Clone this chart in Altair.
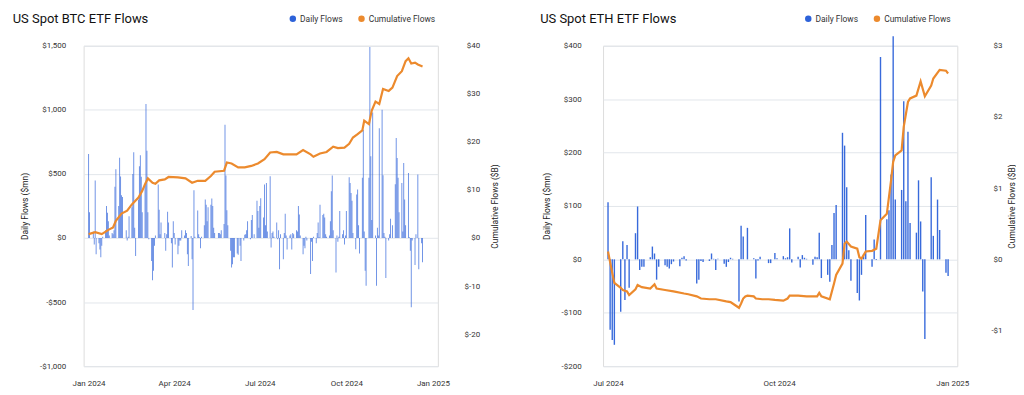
import altair as alt
import pandas as pd

BLUE = "#2d62d9"
ORANGE = "#ec8a2d"
FONT = "Roboto"

# ---------------- BTC ----------------
btc_holidays = ["2024-01-15", "2024-02-19", "2024-03-29", "2024-05-27", "2024-06-19",
                "2024-07-04", "2024-09-02", "2024-11-28", "2024-12-25"]
btc_daily = [
    655, 200, 50, -50, 448, -127, -40, -90, -150, -60,
    10, 60, 250, 197, 130, 20, 40, 30, 60, 400,
    536, 250, 627, 480, 334, 320, 60, -20, 10, 170,
    240, 500, 670, 80, -140, 300, 560, 645, 477, 200,
    420, 1046, 680, 200, -10, -180, -330, -256, -60, 20,
    417, 220, 30, 120, 40, -100, 30, 205, 120, -40,
    -230, 130, 40, -50, -127, -60, -20, -20, 60, 20,
    60, 40, -127, -218, 15, -166, -562, 373, 10, 215,
    30, 5, -80, 10, 100, 300, 260, 130, 240, 260,
    308, 250, 80, 40, 40, 40, 30, 60, 110, 883,
    488, 217, 100, -100, -230, -205, -150, -150, -120, -130,
    -60, -180, -20, 25, 30, 60, 130, -10, 140, 180,
    30, 290, 210, 80, 250, 310, 160, 417, 100, 430,
    50, 482, -75, 40, 50, 10, 120, -10, 60, -243,
    30, -166, 40, 190, 20, -90, 20, 30, -90, 40,
    30, 60, 50, 250, 184, 20, -127, -60, -80, 10,
    -20, -280, -30, -180, 10, -40, 40, 120, 5, 260,
    180, 190, 160, 30, 10, 20, 130, 365, 487, 60,
    -270, 20, -30, 10, 210, 30, 60, -50, 20, 210,
    475, 430, 352, 290, 40, -88, 340, 378, 100, -120,
    470, 845, 50, -256, -373, 470, 1490, 637, 140, 980,
    20, -373, 80, 20, 857, 1000, 490, 40, 10, -313,
    -20, 30, 150, 100, 420, 780, 624, 470, 200, 430,
    50, 585, 300, 100, 508, 5, -100, -541, -20, -210,
    30, 495, -243, -40, -190,
]
btc_cum_dates = [
    "2024-01-11", "2024-01-18", "2024-01-25", "2024-02-01", "2024-02-06", "2024-02-09",
    "2024-02-15", "2024-02-21", "2024-02-26", "2024-03-04", "2024-03-08", "2024-03-11",
    "2024-03-14", "2024-03-19", "2024-03-22", "2024-03-26", "2024-04-01", "2024-04-05",
    "2024-04-15", "2024-04-23", "2024-04-30", "2024-05-06", "2024-05-14", "2024-05-20",
    "2024-05-24", "2024-06-03", "2024-06-06", "2024-06-11", "2024-06-18", "2024-06-25",
    "2024-07-02", "2024-07-09", "2024-07-16", "2024-07-22", "2024-07-29", "2024-08-05",
    "2024-08-12", "2024-08-19", "2024-08-26", "2024-09-03", "2024-09-06", "2024-09-13",
    "2024-09-20", "2024-09-27", "2024-10-02", "2024-10-09", "2024-10-14", "2024-10-18",
    "2024-10-23", "2024-10-28", "2024-10-30", "2024-11-04", "2024-11-07", "2024-11-11",
    "2024-11-15", "2024-11-19", "2024-11-25", "2024-11-29", "2024-12-04", "2024-12-09",
    "2024-12-13", "2024-12-16", "2024-12-19", "2024-12-23", "2024-12-26", "2024-12-31",
]
btc_cum = [
    0.8, 1.2, 0.8, 1.7, 2.2, 3.6,
    5.1, 5.7, 7.0, 8.4, 9.8, 11.2,
    12.4, 11.5, 11.3, 12.0, 12.2, 12.7,
    12.6, 12.4, 11.5, 11.9, 11.9, 12.9,
    13.8, 14.0, 15.7, 15.5, 14.7, 14.7,
    15.0, 15.5, 16.4, 17.8, 17.9, 17.4,
    17.4, 17.4, 18.3, 17.4, 16.9, 17.6,
    17.9, 19.0, 18.7, 18.8, 19.6, 20.9,
    21.6, 22.4, 24.4, 23.7, 26.5, 28.4,
    27.9, 31.0, 30.6, 31.3, 33.7, 34.7,
    36.8, 37.4, 36.3, 36.5, 36.1, 35.7,
]

# ---------------- ETH ----------------
eth_holidays = ["2024-09-02", "2024-11-28", "2024-12-25"]
eth_daily = [
    # Jul 23 - Jul 31
    107, -132, -151, -160, -98, 34, -76,
    # Aug
    27, -53, 49, 99, -20, -14, -14, 4, 24, 11, -38, -14, -11, -14, -17, -9, -4, -13, 3, 6, -2, 0,
    # Sep
    -45, -38, -3, -5, -3, 11, 1, -20, 1, -8, -14, -5, 3, 1, -79, 63, 43, 0, 59, 2,
    # Oct
    -36, -2, 5, 0, -7, -7, 0, 12, 2, 6, 2, 4, 58, -6, 5, -15, 8, 3, 1, -10, 5, 4, 50,
    # Nov
    -35, -29, -42, 27, 87, 102, 237, 213, 135, 17, -40, -63, -77, -29, 10, 83, -14, 37, -1, 379,
    # Dec
    75, 92, 159, 418, 112, 130, 296, 109, 239, 68, 50, 148, 71, -60, -149, 154, 44, 112, 55, -25, -31,
]
eth_cum_dates = [
    "2024-07-23", "2024-07-25", "2024-07-26", "2024-07-29", "2024-07-30", "2024-08-01",
    "2024-08-02", "2024-08-05", "2024-08-06", "2024-08-08", "2024-08-12", "2024-08-14",
    "2024-08-15", "2024-08-19", "2024-08-23", "2024-08-28", "2024-08-30", "2024-09-03",
    "2024-09-05", "2024-09-09", "2024-09-12", "2024-09-17", "2024-09-19", "2024-09-20",
    "2024-09-23", "2024-09-24", "2024-09-25", "2024-09-26", "2024-09-27", "2024-09-30",
    "2024-10-01", "2024-10-04", "2024-10-07", "2024-10-10", "2024-10-14", "2024-10-16",
    "2024-10-17", "2024-10-21", "2024-10-25", "2024-10-30", "2024-10-31", "2024-11-01",
    "2024-11-05", "2024-11-07", "2024-11-08", "2024-11-11", "2024-11-12", "2024-11-13",
    "2024-11-15", "2024-11-18", "2024-11-19", "2024-11-20", "2024-11-22", "2024-11-25",
    "2024-11-27", "2024-11-29", "2024-12-02", "2024-12-04", "2024-12-05", "2024-12-06",
    "2024-12-09", "2024-12-10", "2024-12-12", "2024-12-13", "2024-12-16", "2024-12-18",
    "2024-12-20", "2024-12-23", "2024-12-24", "2024-12-27", "2024-12-30", "2024-12-31",
]
eth_cum = [
    0.11, -0.19, -0.33, -0.40, -0.43, -0.45,
    -0.50, -0.42, -0.36, -0.39, -0.41, -0.35,
    -0.41, -0.43, -0.45, -0.48, -0.49, -0.52,
    -0.55, -0.56, -0.56, -0.59, -0.60, -0.62,
    -0.68, -0.62, -0.55, -0.52, -0.51, -0.52,
    -0.55, -0.56, -0.56, -0.57, -0.58, -0.55,
    -0.51, -0.51, -0.52, -0.52, -0.47, -0.52,
    -0.56, -0.34, -0.22, -0.06, 0.22, 0.25,
    0.18, 0.15, 0.03, 0.01, 0.11, 0.12,
    0.15, 0.55, 0.64, 1.11, 1.37, 1.46,
    1.53, 1.86, 2.21, 2.26, 2.30, 2.50,
    2.29, 2.44, 2.54, 2.66, 2.65, 2.61,
]

SERIES = ["Daily Flows", "Cumulative Flows"]


def trading_days(start, end, holidays, n):
    d = pd.bdate_range(start, end, freq="C", holidays=holidays)
    return [x.strftime("%Y-%m-%d") for x in d][:n]


def dt(y, m, d):
    return alt.DateTime(year=y, month=m, date=d, utc=True)


def panel(title, daily, dates, cum_dates, cum, x_domain, x_ticks, left_dom, left_ticks,
          right_dom, right_ticks, right_expr, bar_size, bar_opacity, left_lab_pad,
          left_title_pad, right_lab_pad, right_title_pad, title_dx, legend_x):
    n = min(len(daily), len(dates))
    ddf = pd.DataFrame({"date": dates[:n], "flow": daily[:n], "series": SERIES[0]})
    cdf = pd.DataFrame({"date": cum_dates, "cum": cum})

    x_enc = alt.X(
        "date:T",
        scale=alt.Scale(type="utc", domain=x_domain),
        axis=alt.Axis(values=x_ticks, format="%b %Y", title=None, grid=False, domain=False,
                      ticks=False, tickSize=0, labelPadding=13, labelFontSize=8,
                      labelFont=FONT, labelColor="#333", labelAlign="center"),
    )
    bars = alt.Chart(ddf).mark_bar(size=bar_size, opacity=bar_opacity).encode(
        x=x_enc,
        y=alt.Y(
            "flow:Q",
            scale=alt.Scale(domain=left_dom, nice=False, zero=False),
            axis=alt.Axis(
                values=left_ticks, title="Daily Flows ($mn)", grid=True, gridColor="#e2e6eb",
                gridWidth=1, domain=False, ticks=False, tickSize=0, labelPadding=left_lab_pad,
                labelFontSize=8, labelFont=FONT, labelColor="#333",
                labelExpr="datum.value < 0 ? '-$' + format(-datum.value, ',') : '$' + format(datum.value, ',')",
                titleFontSize=8.5, titleFont=FONT, titleFontWeight="normal", titleColor="#222",
                titlePadding=left_title_pad,
            ),
        ),
        color=alt.Color(
            "series:N",
            scale=alt.Scale(domain=SERIES, range=[BLUE, ORANGE]),
            legend=alt.Legend(
                orient="none", legendX=legend_x, legendY=-31.5, direction="horizontal",
                title=None, symbolType="circle", symbolSize=42, symbolStrokeWidth=0,
                symbolOpacity=1, labelFontSize=8.5, labelFont=FONT, labelColor="#333",
                columnPadding=14, labelOffset=3,
            ),
        ),
    )
    line = alt.Chart(cdf).mark_line(color=ORANGE, strokeWidth=2.2).encode(
        x=x_enc,
        y=alt.Y(
            "cum:Q",
            scale=alt.Scale(domain=right_dom, nice=False, zero=False),
            axis=alt.Axis(
                orient="right", values=right_ticks, title="Cumulative Flows ($B)", grid=False,
                domain=False, ticks=False, tickSize=0, labelPadding=right_lab_pad,
                labelAlign="right", labelFontSize=8, labelFont=FONT, labelColor="#333",
                labelExpr=right_expr, titleFontSize=8.5, titleFont=FONT,
                titleFontWeight="normal", titleColor="#222", titleAngle=270,
                titleBaseline="top", titlePadding=right_title_pad,
            ),
        ),
    )
    return alt.layer(bars, line).resolve_scale(y="independent").properties(
        width=356, height=322,
        title=alt.TitleParams(title, anchor="start", frame="bounds", fontSize=13, font=FONT,
                              fontWeight="normal", color="#111", offset=-12, dx=title_dx),
    )


btc_dates = trading_days("2024-01-11", "2024-12-31", btc_holidays, len(btc_daily))
eth_dates = trading_days("2024-07-23", "2024-12-31", eth_holidays, len(eth_daily))

btc = panel(
    "US Spot BTC ETF Flows", btc_daily, btc_dates, btc_cum_dates, btc_cum,
    [dt(2024, 1, 11), dt(2025, 1, 11)],
    [dt(2024, 1, 11), dt(2024, 4, 11), dt(2024, 7, 11), dt(2024, 10, 11), dt(2025, 1, 11)],
    [-1000, 1500], [-1000, -500, 0, 500, 1000, 1500],
    [-26.6667, 40], [-20, -10, 0, 10, 20, 30, 40],
    "'$' + datum.value", 0.9, 0.75, 18, 10, 42, 11, -8, 206,
)
eth = panel(
    "US Spot ETH ETF Flows", eth_daily, eth_dates, eth_cum_dates, eth_cum,
    [dt(2024, 7, 23), dt(2025, 1, 2)],
    [dt(2024, 7, 23), dt(2024, 10, 12), dt(2025, 1, 2)],
    [-200, 400], [-200, -100, 0, 100, 200, 300, 400],
    [-1.5, 3], [-1, 0, 1, 2, 3],
    "datum.value < 0 ? '-$' + (-datum.value) : '$' + datum.value", 1.4, 0.95, 22, 10, 45, 5,
    -2, 202,
)

chart = alt.hconcat(btc, eth, spacing=40).resolve_scale(color="independent").resolve_legend(
    color="independent"
).properties(
    padding={"left": 4, "top": 4, "right": 0, "bottom": 0}
).configure_view(stroke=None).configure(font=FONT, background="white")

chart.save("out.html", embed_options={"renderer": "svg", "actions": False})
